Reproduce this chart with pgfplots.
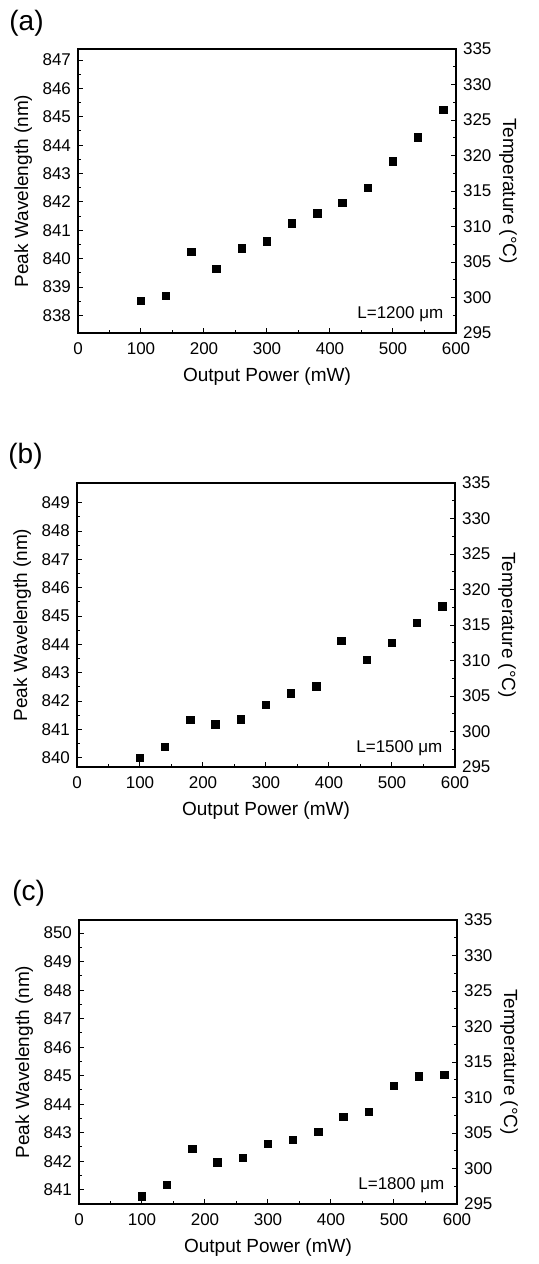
\documentclass[border=0pt]{standalone}
\usepackage{fontspec}
\setmainfont{Liberation Sans}
\usepackage{pgfplots}
\pgfplotsset{compat=1.18}

\pgfplotstableread{
P   wl
100 838.52
140 838.68
180 840.24
220 839.64
260 840.36
300 840.61
340 841.25
380 841.59
420 841.96
460 842.49
500 843.43
540 844.27
580 845.25
}\dataA

\pgfplotstableread{
P   wl
100 840.00
140 840.37
180 841.34
220 841.18
260 841.35
300 841.86
340 842.27
380 842.51
420 844.12
460 843.45
500 844.05
540 844.77
580 845.34
}\dataB

\pgfplotstableread{
P   wl
100 840.77
140 841.18
180 842.44
220 841.96
260 842.12
300 842.61
340 842.75
380 843.02
420 843.56
460 843.73
500 844.65
540 844.98
580 845.02
}\dataC

\pgfplotsset{
  panel/.style={
    scale only axis, width=189pt, height=142pt,
    anchor=north west,
    tick align=inside,
    major tick length=2.5pt, minor tick length=1.4pt,
    every tick/.style={line width=0.5pt, black},
    axis line style={line width=0.6pt},
    ticklabel style={font=\fontsize{8.5}{9}\selectfont},
    label style={font=\fontsize{9.5}{11}\selectfont},
    /pgf/number format/assume math mode=true,
    xmin=0, xmax=600,
  },
  wl/.style={panel,
    xtick={0,100,...,600}, minor x tick num=1,
    xtick pos=bottom, ytick pos=left,
    minor y tick num=1,
    xticklabel style={yshift=-1.5pt},
    xlabel={Output Power (mW)},
    ylabel={Peak Wavelength (nm)},
    xlabel style={at={(axis description cs:0.5,-0.155)}, anchor=center},
    ylabel style={at={(axis description cs:-0.145,0.5)}, anchor=center},
  },
  temp/.style={panel,
    axis x line=none, axis y line*=right,
    ymin=295, ymax=335, ytick={295,300,...,335}, minor y tick num=1,
    ylabel={Temperature (°C)},
    ylabel style={at={(axis description cs:1.138,0.5)}, anchor=center, rotate=180},
  },
  pts/.style={only marks, mark=square*, mark size=1.85pt, black},
}

\begin{document}
\begin{tikzpicture}
\useasboundingbox (0,0) rectangle (269pt,-632pt);

% (a)
\node[anchor=base west, inner sep=0pt, font=\fontsize{14}{16}\selectfont] at (4.5pt,-15pt) {(a)};
\begin{axis}[wl, at={(39pt,-24.5pt)}, ymin=837.38, ymax=847.39, ytick={838,...,847}]
\addplot[pts] table[x=P, y=wl] {\dataA};
\node[anchor=base east, font=\fontsize{8.5}{9}\selectfont] at (rel axis cs:0.985,0.05) {L=1200 μm};
\end{axis}
\begin{axis}[temp, at={(39pt,-24.5pt)}]
\end{axis}

% (b)
\node[anchor=base west, inner sep=0pt, font=\fontsize{14}{16}\selectfont] at (4pt,-231.5pt) {(b)};
\begin{axis}[wl, at={(38.5pt,-241.5pt)}, ymin=839.67, ymax=849.70, ytick={840,...,849}]
\addplot[pts] table[x=P, y=wl] {\dataB};
\node[anchor=base east, font=\fontsize{8.5}{9}\selectfont] at (rel axis cs:0.985,0.05) {L=1500 μm};
\end{axis}
\begin{axis}[temp, at={(38.5pt,-241.5pt)}]
\end{axis}

% (c)
\node[anchor=base west, inner sep=0pt, font=\fontsize{14}{16}\selectfont] at (6pt,-450pt) {(c)};
\begin{axis}[wl, at={(39.5pt,-460pt)}, ymin=840.50, ymax=850.46, ytick={841,...,850}]
\addplot[pts] table[x=P, y=wl] {\dataC};
\node[anchor=base east, font=\fontsize{8.5}{9}\selectfont] at (rel axis cs:0.985,0.05) {L=1800 μm};
\end{axis}
\begin{axis}[temp, at={(39.5pt,-460pt)}]
\end{axis}
\end{tikzpicture}
\end{document}
